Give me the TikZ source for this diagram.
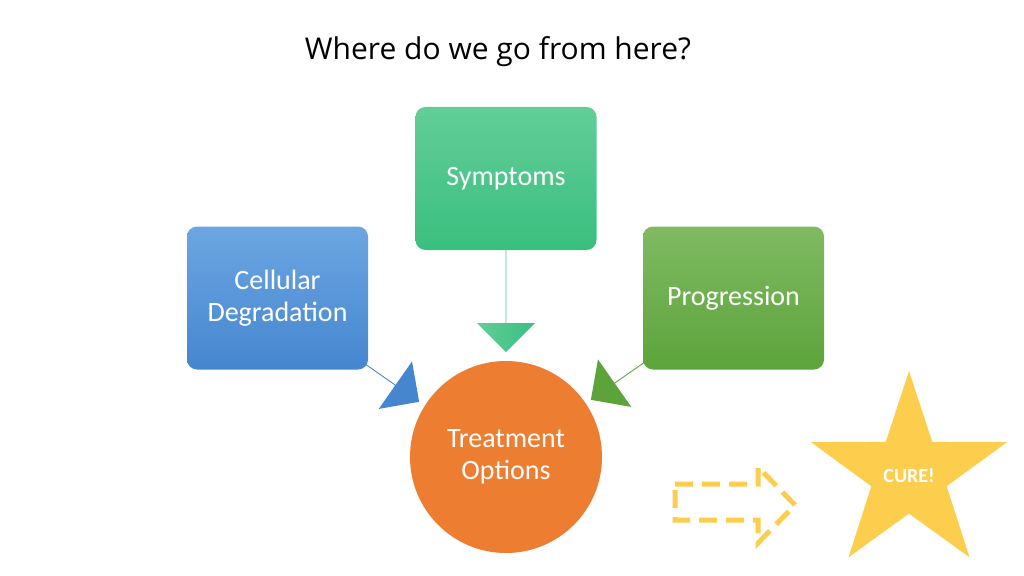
\documentclass[tikz,border=0pt]{standalone}
\usepackage{fontspec}
\setmainfont{Carlito}
\newfontfamily\titlefont{Open Sans}
\usetikzlibrary{shapes.arrows,shapes.geometric}
\definecolor{gA}{HTML}{62CD98}\definecolor{gB}{HTML}{3ABF7F}
\definecolor{bA}{HTML}{6CA6E2}\definecolor{bB}{HTML}{4686CF}
\definecolor{pA}{HTML}{80BA63}\definecolor{pB}{HTML}{5CA43A}
\definecolor{org}{HTML}{ED7D31}\definecolor{gold}{HTML}{FDCD4E}
\begin{document}
\begin{tikzpicture}[x=1pt,y=-1pt,
 box/.style={rounded corners=10pt,minimum width=181pt,minimum height=143pt,text=white,font=\fontsize{28}{32}\selectfont,align=center,inner sep=0pt},
 barrow/.style={single arrow,minimum width=58pt,single arrow head extend=13pt,inner sep=0pt,single arrow tip angle=90}]
\useasboundingbox (0,0) rectangle (1024,575);
\node[font=\titlefont\fontsize{30}{34}\selectfont] (title) at (498,52) {Where do we go from here?};
% arrows
\node[barrow,minimum height=110pt,rotate=-90,top color=gB,bottom color=gA,shading angle=-90] (a1) at (506,297) {};
\node[barrow,minimum height=100pt,rotate=-35,fill=bB] (a2) at (378,373) {};
\node[barrow,minimum height=100pt,rotate=-145,fill=pB] (a3) at (632,371) {};
% boxes
\node[box,top color=gA,bottom color=gB] (sym) at (506,178.5) {Symptoms};
\node[box,top color=bA,bottom color=bB] (cel) at (277.5,298) {Cellular\\Degradation};
\node[box,top color=pA,bottom color=pB] (pro) at (733.5,298) {Progression};
\node[circle,fill=org,minimum size=192pt,text=white,align=center,font=\fontsize{28}{32}\selectfont] (tr) at (506,457) {Treatment\\Options};
% dashed arrow
\draw[gold,line width=5pt,dash pattern=on 18pt off 9pt]
 (675,484) -- (758,484) -- (758,467) -- (795,505) -- (758,543) -- (758,520) -- (675,520) -- cycle;
% star
\node[star,star points=5,star point ratio=2.6,fill=gold,minimum size=206pt,inner sep=0pt] (cure) at (909,474) {};
\node[text=white,font=\bfseries\fontsize{20}{24}\selectfont] (curet) at (909,476) {CURE!};
\end{tikzpicture}
\end{document}
